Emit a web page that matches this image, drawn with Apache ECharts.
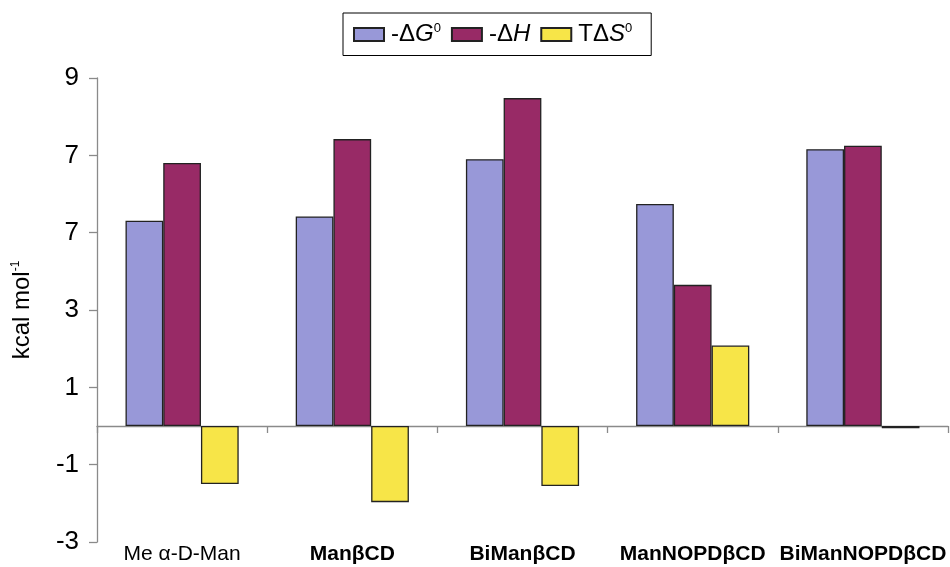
<!DOCTYPE html>
<html>
<head>
<meta charset="utf-8">
<title>Binding thermodynamics</title>
<script src="https://cdn.jsdelivr.net/npm/echarts@6/dist/echarts.min.js"></script>
<style>
  html, body { margin: 0; padding: 0; background: #ffffff; }
  #chart { width: 950px; height: 567px; }
</style>
</head>
<body>
<div id="chart"></div>
<script>
// Ligands / host compounds
const categories = ['Me α-D-Man', 'ManβCD', 'BiManβCD', 'ManNOPDβCD', 'BiManNOPDβCD'];

// Thermodynamic parameters, kcal mol-1
const minusDeltaG = [5.31, 5.42, 6.90, 5.74, 7.16];
const minusDeltaH = [6.80, 7.42, 8.48, 3.65, 7.25];
const tDeltaS = [-1.50, -1.97, -1.55, 2.08, -0.06];

// Value axis ticks and the text printed at each of them
const tickValues = [-3, -1, 1, 3, 5, 7, 9];
const tickLabels = ['-3', '-1', '1', '3', '7', '7', '9'];

const seriesNames = ['-ΔG0', '-ΔH', 'TΔS0'];
const legendText = {
  '-ΔG0': '-Δ{i|G}{sup|0}',
  '-ΔH': '-Δ{i|H}',
  'TΔS0': 'TΔ{i|S}{sup|0}'
};
const colors = ['#9898d8', '#982a66', '#f7e548'];
const values = [minusDeltaG, minusDeltaH, tDeltaS];

const FONT = 'Liberation Sans, Arial, sans-serif';
const AXIS_GREY = '#8a8a8a';

const chart = echarts.init(document.getElementById('chart'), null, { renderer: 'canvas' });

const option = {
  backgroundColor: '#ffffff',
  animation: false,
  textStyle: { fontFamily: FONT, color: '#000' },
  grid: {
    left: 97, right: 2, top: 78, bottom: 25,
    containLabel: false,
    outerBoundsMode: 'none'
  },
  legend: {
    left: 343, top: 13,
    icon: 'rect',
    itemWidth: 30, itemHeight: 13, itemGap: 10,
    padding: [9, 19, 9, 10],
    borderColor: '#000', borderWidth: 1,
    selectedMode: false,
    data: seriesNames,
    formatter: name => legendText[name],
    textStyle: {
      fontFamily: FONT, fontSize: 24, color: '#000',
      padding: [0, 0, 0, 2],
      rich: {
        i: { fontFamily: FONT, fontSize: 24, fontStyle: 'italic', color: '#000' },
        sup: { fontFamily: FONT, fontSize: 13, color: '#000', verticalAlign: 'top', padding: [0, 0, 12, 0] }
      }
    }
  },
  xAxis: [
    {
      // category names along the bottom edge
      type: 'category',
      data: categories,
      position: 'bottom',
      axisLine: { show: false, onZero: false },
      axisTick: { show: false },
      axisLabel: {
        margin: 2,
        interval: 0,
        formatter: (v, i) => (i === 0 ? '{n|' + v + '}' : '{b|' + v + '}'),
        rich: {
          n: { fontFamily: FONT, fontSize: 21, color: '#000' },
          b: { fontFamily: FONT, fontSize: 21, fontWeight: 'bold', color: '#000' }
        }
      },
      splitLine: { show: false }
    },
    {
      // zero baseline with category separators
      type: 'category',
      data: categories,
      position: 'bottom',
      axisLine: { show: true, onZero: true, lineStyle: { color: AXIS_GREY, width: 1.3 } },
      axisTick: { show: true, length: 7, lineStyle: { color: AXIS_GREY, width: 1.3 } },
      axisLabel: { show: false },
      splitLine: { show: false }
    }
  ],
  yAxis: {
    type: 'value',
    min: -3, max: 9, interval: 2,
    name: 'kcal mol{sup|-1}',
    nameLocation: 'middle',
    nameRotate: 90,
    nameGap: 62,
    nameTextStyle: {
      fontFamily: FONT, fontSize: 24, color: '#000',
      rich: {
        sup: { fontFamily: FONT, fontSize: 12, color: '#000', verticalAlign: 'top', padding: [0, 0, 13, 0] }
      }
    },
    axisLine: { show: true, lineStyle: { color: AXIS_GREY, width: 1.3 } },
    axisTick: { show: true, length: 8, lineStyle: { color: AXIS_GREY, width: 1.3 } },
    axisLabel: {
      margin: 18,
      fontFamily: FONT, fontSize: 26, color: '#000',
      formatter: v => {
        const k = tickValues.indexOf(v);
        return k >= 0 ? tickLabels[k] : '';
      }
    },
    splitLine: { show: false }
  },
  series: seriesNames.map((name, k) => ({
    name: name,
    type: 'bar',
    xAxisIndex: 0,
    data: values[k],
    barGap: '0%',
    barCategoryGap: '33.5%',
    itemStyle: { color: colors[k], borderColor: '#222', borderWidth: 1.3 }
  }))
};

chart.setOption(option);
</script>
</body>
</html>
